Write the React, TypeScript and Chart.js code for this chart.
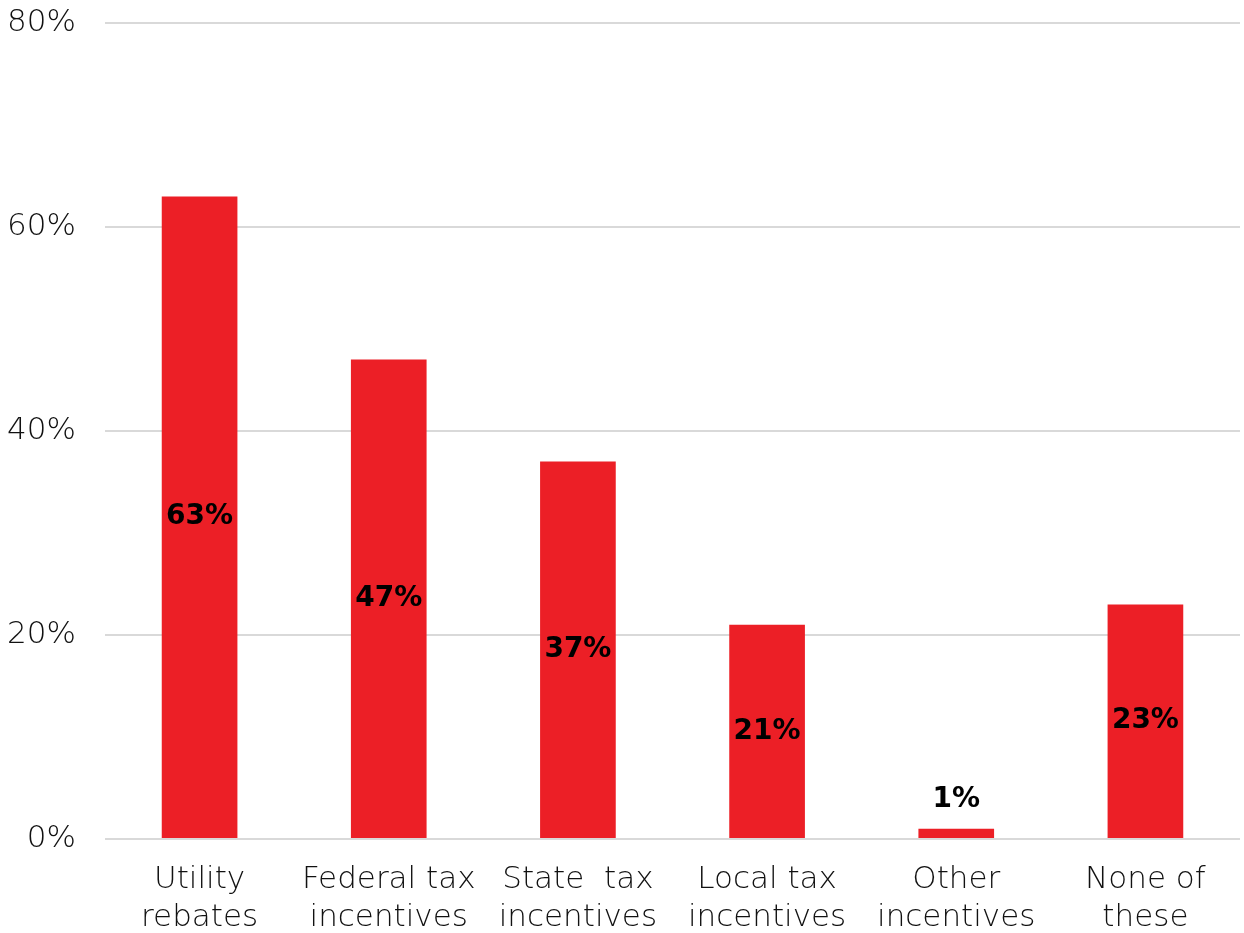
import React, { useEffect, useRef } from "react";
import { Chart, registerables } from "chart.js";

Chart.register(...registerables);

const categories: string[][] = [
  ["Utility", "rebates"],
  ["Federal tax", "incentives"],
  ["State  tax", "incentives"],
  ["Local tax", "incentives"],
  ["Other", "incentives"],
  ["None of", "these"],
];
const values: number[] = [63, 47, 37, 21, 1, 23];
const yTicks: number[] = [0, 20, 40, 60, 80];

const BAR_COLOR = "#EC1F26";
const FONT = "'DejaVu Sans', sans-serif";

const valueLabels = {
  id: "valueLabels",
  afterDatasetsDraw(chart: any) {
    const ctx = chart.ctx;
    const meta = chart.getDatasetMeta(0);
    ctx.save();
    ctx.fillStyle = "#000";
    ctx.font = `700 28px ${FONT}`;
    ctx.textAlign = "center";
    ctx.textBaseline = "middle";
    meta.data.forEach((bar: any, i: number) => {
      const { x, y, base } = bar.getProps(["x", "y", "base"], true);
      const h = base - y;
      const text = values[i] + "%";
      if (h < 40) {
        ctx.fillText(text, x, y - 29);
      } else {
        ctx.fillText(text, x, (y + base) / 2);
      }
    });
    ctx.restore();
  },
};

export default function App() {
  const ref = useRef<HTMLCanvasElement | null>(null);
  useEffect(() => {
    document.body.style.margin = "0";
    if (!ref.current) return;
    const chart = new Chart(ref.current, {
      type: "bar",
      data: {
        labels: categories,
        datasets: [
          {
            data: values,
            backgroundColor: BAR_COLOR,
            barPercentage: 0.4,
            categoryPercentage: 1,
          },
        ],
      },
      options: {
        animation: false,
        responsive: false,
        maintainAspectRatio: false,
        layout: { padding: { top: 23, right: 4, left: 0, bottom: 0 } },
        plugins: {
          legend: { display: false },
          tooltip: { enabled: false },
        },
        scales: {
          x: {
            grid: { display: false, drawTicks: false },
            border: { display: false },
            afterFit: (s: any) => {
              s.height = 94;
            },
            ticks: {
              color: "#111",
              font: { family: FONT, size: 31, weight: "200" as any, lineHeight: 1.23 },
              padding: 22,
              maxRotation: 0,
              autoSkip: false,
            },
          },
          y: {
            min: 0,
            max: 80,
            afterBuildTicks: (axis: any) => {
              axis.ticks = yTicks.map((v) => ({ value: v }));
            },
            afterFit: (s: any) => {
              s.width = 105;
              s.paddingTop = 0;
              s.paddingBottom = 0;
            },
            grid: { color: "#d9d9d9", lineWidth: 2, drawTicks: false },
            border: { display: false },
            ticks: {
              color: "#111",
              font: { family: FONT, size: 31, weight: "200" as any },
              padding: 29,
              callback: (v: any) => v + "%",
            },
          },
        },
      },
      plugins: [valueLabels],
    });
    return () => chart.destroy();
  }, []);
  return (
    <div style={{ width: 1244, height: 933 }}>
      <canvas ref={ref} width={1244} height={933} style={{ display: "block" }} />
    </div>
  );
}
